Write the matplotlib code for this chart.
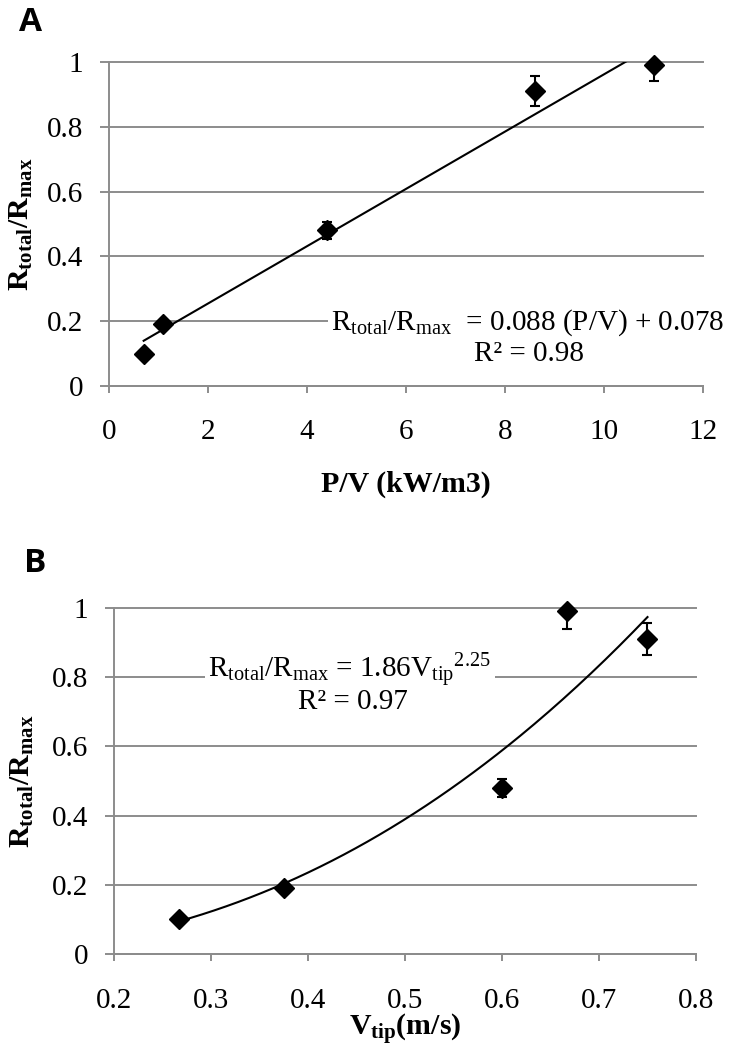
import numpy as np
import matplotlib
matplotlib.use("Agg")
import matplotlib.pyplot as plt
from matplotlib.ticker import FuncFormatter

plt.rcParams['font.family'] = ['Liberation Serif', 'DejaVu Serif']
plt.rcParams['mathtext.fontset'] = 'custom'
plt.rcParams['mathtext.rm'] = 'Liberation Serif'
plt.rcParams['mathtext.bf'] = 'Liberation Serif:bold'
plt.rcParams['mathtext.it'] = 'Liberation Serif:italic'

# ---- data ----
pv = [0.7, 1.1, 4.4, 8.6, 11.0]            # P/V (kW/m3)
vtip = [0.267, 0.375, 0.6, 0.75, 0.667]    # V_tip (m/s)
ratio = [0.10, 0.19, 0.48, 0.91, 0.99]     # R_total/R_max
ratio_err = [0.005, 0.005, 0.025, 0.046, 0.05]

xticks_a = [0, 2, 4, 6, 8, 10, 12]
xticks_b = [0.2, 0.3, 0.4, 0.5, 0.6, 0.7, 0.8]
yticks = [0, 0.2, 0.4, 0.6, 0.8, 1]

eq_a = r'$\mathrm{R_{total}/R_{max}}$  = 0.088 (P/V) + 0.078'
r2_a = 'R\u00b2 = 0.98'
eq_b = r'$\mathrm{R_{total}/R_{max}}$ = 1.86$\mathrm{V_{tip}}^{2.25}$'
r2_b = 'R\u00b2 = 0.97'
ylabel = r'$\mathbf{R_{total}/R_{max}}$'
xlabel_a = 'P/V (kW/m3)'
xlabel_b = r'$\mathbf{V_{tip}}$(m/s)'

GRID = '#8c8c8c'
TICK_FS = 21
LAB_FS = 21.5
ANN_FS = 21

fig = plt.figure(figsize=(7.3, 10.5), dpi=100)
W, H = 730, 1050

def axes_px(l, r, top, bot):
    return fig.add_axes([l / W, 1 - bot / H, (r - l) / W, (bot - top) / H])

ax_a = axes_px(109, 703, 62, 386)
ax_b = axes_px(114, 696, 608, 954)

def style(ax, xticks, xpad):
    ax.set_ylim(0, 1)
    ax.set_yticks(yticks)
    ax.set_xticks(xticks)
    ax.set_xlim(xticks[0], xticks[-1])
    fmt = FuncFormatter(lambda v, p: '%g' % round(v, 6))
    ax.xaxis.set_major_formatter(fmt)
    ax.yaxis.set_major_formatter(fmt)
    for s in ['top', 'right']:
        ax.spines[s].set_visible(False)
    for s in ['left', 'bottom']:
        ax.spines[s].set_color(GRID)
        ax.spines[s].set_linewidth(1.4)
    ax.grid(axis='y', color=GRID, linewidth=1.4)
    ax.set_axisbelow(True)
    for gl in ax.get_ygridlines():
        gl.set_clip_on(False)
    ax.tick_params(axis='y', direction='out', length=6.5, width=1.4, color=GRID,
                   labelsize=TICK_FS, pad=12)
    ax.tick_params(axis='x', direction='out', length=5, width=1.4, color=GRID,
                   labelsize=TICK_FS, pad=xpad)

def draw(ax, x, y, err):
    ax.errorbar(x, y, yerr=err, fmt='none', ecolor='black', elinewidth=1.5,
                capsize=3.8, capthick=1.5, zorder=3)
    ax.plot(x, y, linestyle='none', marker='D', markersize=10, color='black',
            markeredgecolor='black', zorder=4, clip_on=False)

# ---- Panel A ----
style(ax_a, xticks_a, 19)
draw(ax_a, pv, ratio, ratio_err)
k, b = np.polyfit(pv, ratio, 1)
xa = np.linspace(min(pv), max(pv), 200)
ax_a.plot(xa, k * xa + b, color='black', linewidth=1.5, zorder=3)
ax_a.text(0.705, 0.196, eq_a, transform=ax_a.transAxes, ha='center', va='center',
          fontsize=ANN_FS, bbox=dict(facecolor='white', edgecolor='none', pad=2),
          zorder=5, clip_on=False)
ax_a.text(0.707, 0.098, r2_a, transform=ax_a.transAxes, ha='center', va='center',
          fontsize=ANN_FS, zorder=5)
ax_a.set_ylabel(ylabel, fontsize=LAB_FS)
ax_a.yaxis.set_label_coords(-0.148, 0.5)
ax_a.yaxis.label.set_va('center')
ax_a.yaxis.label.set_ha('center')
ax_a.set_xlabel(xlabel_a, fontsize=LAB_FS, fontweight='bold')
ax_a.xaxis.set_label_coords(0.5, -0.302)
ax_a.xaxis.label.set_va('center')

# ---- Panel B ----
style(ax_b, xticks_b, 19.5)
draw(ax_b, vtip, ratio, ratio_err)
p, lnc = np.polyfit(np.log(vtip), np.log(ratio), 1)
xb = np.linspace(min(vtip), max(vtip), 200)
ax_b.plot(xb, np.exp(lnc) * xb ** p, color='black', linewidth=1.5, zorder=3)
ax_b.text(0.405, 0.818, eq_b, transform=ax_b.transAxes, ha='center', va='center',
          fontsize=ANN_FS, bbox=dict(facecolor='white', edgecolor='none', pad=2.5),
          zorder=5)
ax_b.text(0.41, 0.728, r2_b, transform=ax_b.transAxes, ha='center', va='center',
          fontsize=ANN_FS, zorder=6)
ax_b.set_ylabel(ylabel, fontsize=LAB_FS)
ax_b.yaxis.set_label_coords(-0.158, 0.5)
ax_b.yaxis.label.set_va('center')
ax_b.yaxis.label.set_ha('center')
ax_b.set_xlabel(xlabel_b, fontsize=LAB_FS, fontweight='bold')
ax_b.xaxis.set_label_coords(0.5, -0.218)
ax_b.xaxis.label.set_va('center')

# panel letters
fig.text(19 / W, 1 - 31 / H, 'A', fontsize=24, fontweight='bold',
         family=['Open Sans', 'DejaVu Sans'], va='baseline', ha='left')
fig.text(24 / W, 1 - 572 / H, 'B', fontsize=24, fontweight='bold',
         family=['Open Sans', 'DejaVu Sans'], va='baseline', ha='left')

fig.savefig('out.png', dpi=100)
